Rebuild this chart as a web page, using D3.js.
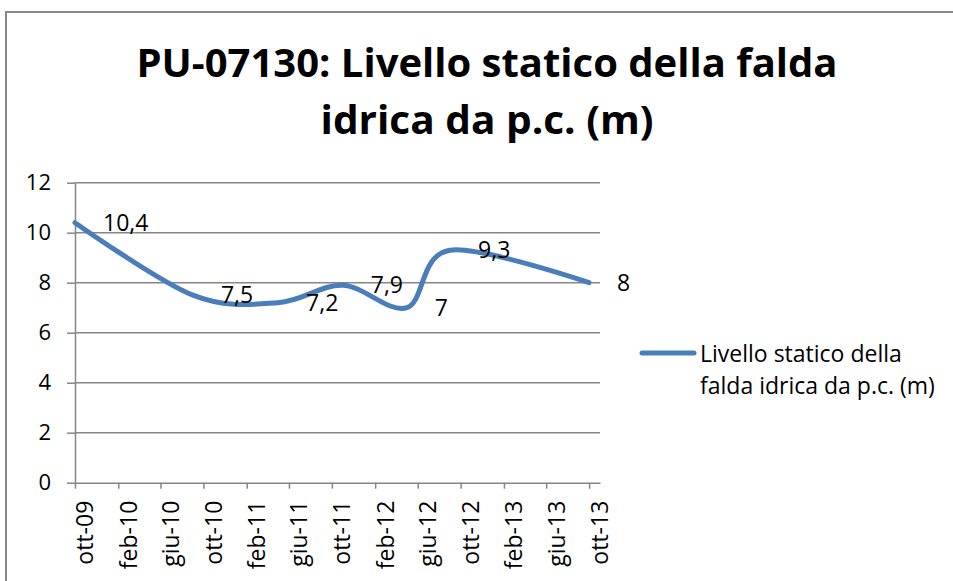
<!DOCTYPE html>
<html>
<head>
<meta charset="utf-8">
<script src="https://cdn.jsdelivr.net/npm/d3@7"></script>
<style>
  body { margin: 0; background: #fff; }
  text { font-family: "Open Sans", sans-serif; fill: #000; }
</style>
</head>
<body>
<svg id="chart" width="953" height="581"></svg>
<script>
// Data
const sampleDates = ["2009-10", "2010-09", "2011-05", "2011-11", "2012-05", "2012-09", "2013-10"];
const levels = [10.4, 7.5, 7.2, 7.9, 7, 9.3, 8];
const xTickLabels = ["ott-09", "feb-10", "giu-10", "ott-10", "feb-11", "giu-11", "ott-11",
  "feb-12", "giu-12", "ott-12", "feb-13", "giu-13", "ott-13"];
const yTicks = [0, 2, 4, 6, 8, 10, 12];
const titleLines = ["PU-07130: Livello statico della falda", "idrica da p.c. (m)"];
const legendLines = ["Livello statico della", "falda idrica da p.c. (m)"];
const itMonths = ["gen", "feb", "mar", "apr", "mag", "giu", "lug", "ago", "set", "ott", "nov", "dic"];

const svg = d3.select("#chart");
const blue = "#4a7ebb",
  grey = "#868686";

const parseYM = d3.timeParse("%Y-%m");
// "ott-09" -> Date
function parseLabel(s) {
  const [m, y] = s.split("-");
  return new Date(2000 + +y, itMonths.indexOf(m), 1);
}

const data = sampleDates.map((d, i) => ({ date: parseYM(d), value: levels[i] }));

// chart frame
svg.append("rect")
  .attr("x", 6).attr("y", 12)
  .attr("width", 960).attr("height", 600)
  .attr("fill", "none")
  .attr("stroke", "#898989")
  .attr("stroke-width", 2);

// title
svg.selectAll(".title")
  .data(titleLines)
  .join("text")
  .attr("class", "title")
  .attr("x", 487)
  .attr("y", (d, i) => 77 + i * 57)
  .attr("text-anchor", "middle")
  .attr("textLength", (d, i) => (i === 0 ? 701 : 333))
  .attr("lengthAdjust", "spacingAndGlyphs")
  .style("font-size", "40px")
  .style("font-weight", "bold")
  .text((d) => d);

// scales
const x = d3.scaleTime()
  .domain([parseLabel("ott-09"), parseLabel("nov-13")])
  .range([75, 600]);
const y = d3.scaleLinear().domain([0, 12]).range([482.7, 182.7]);

// gridlines
svg.append("g")
  .selectAll("line")
  .data(yTicks.slice(1))
  .join("line")
  .attr("x1", 75).attr("x2", 600)
  .attr("y1", (d) => y(d)).attr("y2", (d) => y(d))
  .attr("stroke", grey)
  .attr("stroke-width", 1.5);

// y axis
const yAxis = svg.append("g")
  .attr("transform", "translate(75,0)")
  .call(d3.axisLeft(y).tickValues(yTicks).tickSize(8).tickSizeOuter(0).tickPadding(16));
yAxis.selectAll("text").style("font-size", "22px").style("font-family", "Open Sans");

// x axis
const xAxis = svg.append("g")
  .attr("transform", `translate(0,${y(0)})`)
  .call(d3.axisBottom(x)
    .tickValues(xTickLabels.map(parseLabel))
    .tickFormat((d, i) => xTickLabels[i])
    .tickSize(6)
    .tickSizeOuter(0));
xAxis.selectAll("text")
  .attr("transform", "rotate(-90)")
  .attr("text-anchor", "end")
  .attr("x", -18)
  .attr("y", 0)
  .attr("dy", "0.78em")
  .style("font-size", "23px")
  .style("font-family", "Open Sans");

svg.selectAll(".domain, .tick line").attr("stroke", grey).attr("stroke-width", 1.5);

// smoothed line
const line = d3.line()
  .x((d) => x(d.date))
  .y((d) => y(d.value))
  .curve(d3.curveCardinal.tension(0));

svg.append("path")
  .datum(data)
  .attr("d", line)
  .attr("fill", "none")
  .attr("stroke", blue)
  .attr("stroke-width", 5)
  .attr("stroke-linecap", "round")
  .attr("stroke-linejoin", "round");

// data labels, right of each point
svg.append("g")
  .selectAll("text")
  .data(data)
  .join("text")
  .attr("x", (d) => x(d.date) + 28)
  .attr("y", (d) => y(d.value))
  .attr("dy", "0.36em")
  .style("font-size", "23px")
  .text((d) => String(d.value).replace(".", ","));

// legend
svg.append("line")
  .attr("x1", 642).attr("x2", 694)
  .attr("y1", 353).attr("y2", 353)
  .attr("stroke", blue)
  .attr("stroke-width", 5)
  .attr("stroke-linecap", "round");

svg.selectAll(".legend")
  .data(legendLines)
  .join("text")
  .attr("class", "legend")
  .attr("x", 700)
  .attr("y", (d, i) => 362 + i * 32)
  .style("font-size", "23px")
  .text((d) => d);
</script>
</body>
</html>
